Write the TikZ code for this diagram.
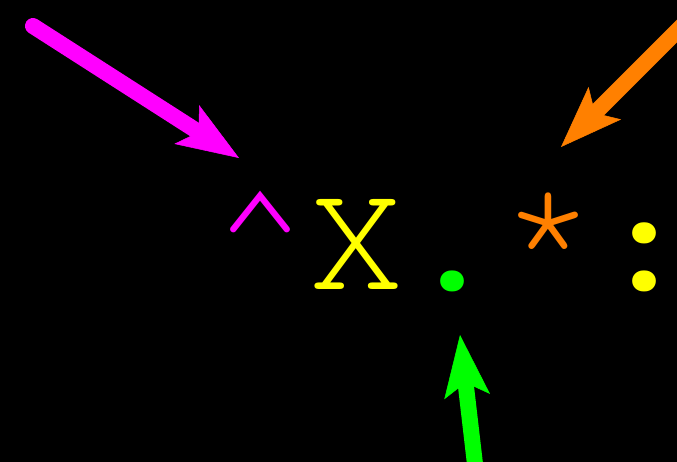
\documentclass[tikz,border=0pt]{standalone}
\usepackage{fontspec}
\newfontfamily\cursorfont{texgyrecursor-regular.otf}
\usetikzlibrary{arrows.meta}
\definecolor{mag}{HTML}{FF00FF}
\definecolor{yel}{HTML}{FFFF00}
\definecolor{grn}{HTML}{00FF00}
\definecolor{org}{HTML}{FF8000}
\begin{document}
\begin{tikzpicture}[x=1pt,y=-1pt,
  glyph/.style={inner sep=0pt, anchor=base, font=\cursorfont\fontsize{160}{160}\selectfont},
  pointer/.style={line width=16pt, line cap=round,
    -{Stealth[length=62pt,width=46pt,inset=14pt,line width=0.5pt]}}]
\fill[black] (0,0) rectangle (677,462);
\useasboundingbox (0,0) rectangle (677,462);
\node[glyph, text=mag] (caret) at (260,289) {\textasciicircum};
\node[glyph, text=yel] (x) at (356,289) {X};
\node[glyph, text=grn] (dot) at (452,289) {.};
\node[glyph, text=org] (star) at (548,289) {*};
\node[glyph, text=yel] (colon) at (644,289) {:};
\coordinate (mtail) at (33,26);
\coordinate (mtip) at (239,158);
\coordinate (otail) at (720,-12);
\coordinate (otip) at (561,147);
\coordinate (gtail) at (478,490);
\coordinate (gtip) at (460,335);
\draw[pointer, mag] (mtail) -- (mtip);
\draw[pointer, org] (otail) -- (otip);
\draw[pointer, grn] (gtail) -- (gtip);
\end{tikzpicture}
\end{document}
